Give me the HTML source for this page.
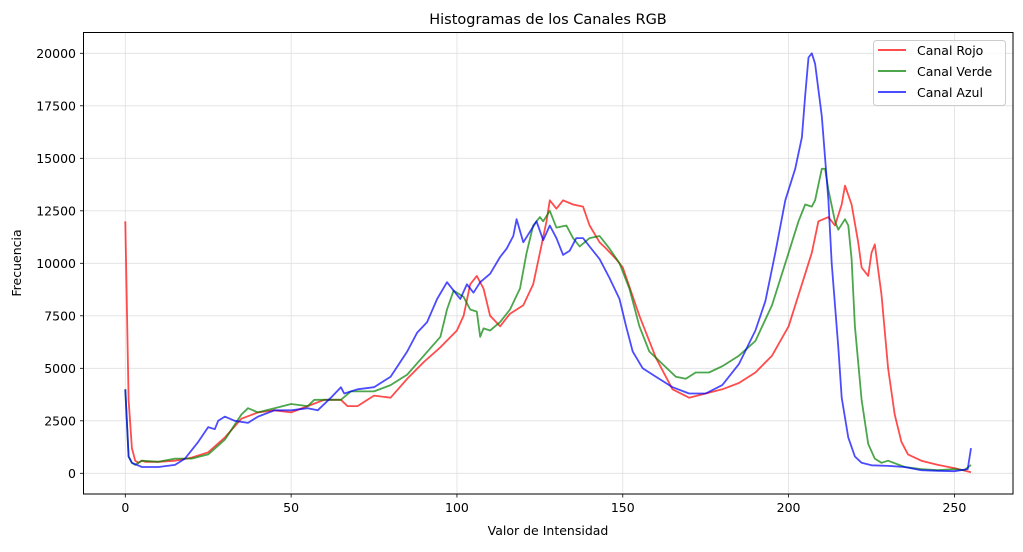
<!DOCTYPE html>
<html><head><meta charset="utf-8"><style>
body{margin:0;background:#fff;}
svg text{font-family:"DejaVu Sans","Liberation Sans",sans-serif;fill:#000;}
</style></head><body>
<svg id="chart" width="1023" height="547" viewBox="0 0 1023 547" xmlns="http://www.w3.org/2000/svg">
<rect width="1023" height="547" fill="#fff"/>
<g id="grid"></g>
<g id="series"></g>
<rect x="83.5" y="32.5" width="929.5" height="461.5" fill="none" stroke="#000" stroke-width="1"/>
<g id="ticks"></g>
<text x="548" y="24" font-size="14.5" text-anchor="middle">Histogramas de los Canales RGB</text>
<text x="548" y="535" font-size="12.5" text-anchor="middle">Valor de Intensidad</text>
<text x="21" y="263" font-size="12.5" text-anchor="middle" transform="rotate(-90 21 263)">Frecuencia</text>
<g>
<rect x="873.5" y="40.5" width="132" height="65" rx="3" fill="#fff" fill-opacity="0.8" stroke="#ccc"/>
<g><line x1="878" y1="50" x2="906" y2="50" stroke="#ff0000" stroke-opacity="0.7" stroke-width="2"/><text x="917" y="55" font-size="12.5">Canal Rojo</text></g>
<g><line x1="878" y1="71" x2="906" y2="71" stroke="#008000" stroke-opacity="0.7" stroke-width="2"/><text x="917" y="76" font-size="12.5">Canal Verde</text></g>
<g><line x1="878" y1="92" x2="906" y2="92" stroke="#0000ff" stroke-opacity="0.7" stroke-width="2"/><text x="917" y="97" font-size="12.5">Canal Azul</text></g>
</g>
</svg>
<script>
const xTicks=[0,50,100,150,200,250];
const yTicks=[0,2500,5000,7500,10000,12500,15000,17500,20000];
const redX=[0,1,2,3,4,5,6,10,15,20,25,30,35,40,45,50,55,60,65,67,70,75,80,85,90,95,100,102,104,106,108,110,113,116,120,123,125,127,128,130,132,135,138,140,143,145,148,150,155,160,165,170,175,180,185,190,195,200,205,207,209,212,214,216,217,219,221,222,224,225,226,228,230,232,234,236,240,245,250,255];
const redY=[12000,3500,1200,600,500,600,550,550,600,750,1000,1700,2600,2900,3000,2900,3200,3500,3500,3200,3200,3700,3600,4500,5300,6000,6800,7500,9000,9400,8800,7500,7000,7600,8000,9000,10500,12000,13000,12600,13000,12800,12700,11800,11000,10700,10200,9800,7500,5500,4000,3600,3800,4000,4300,4800,5600,7000,9500,10500,12000,12200,11800,12800,13700,12800,11000,9800,9400,10500,10900,8500,5000,2800,1500,900,600,400,250,50];
const greenX=[0,1,2,3,5,10,15,20,25,30,35,37,40,45,50,55,57,60,65,68,75,80,85,90,95,97,99,102,104,106,107,108,110,113,116,119,121,123,125,126,128,130,133,135,137,140,143,146,149,152,155,158,162,166,169,172,176,180,185,190,195,200,203,205,207,208,210,211,212,214,215,217,218,219,220,222,224,226,228,230,235,240,245,250,253,255];
const greenY=[4000,800,500,400,600,550,700,700,900,1600,2800,3100,2900,3100,3300,3200,3500,3500,3500,3900,3900,4200,4700,5600,6500,7800,8700,8400,7800,7700,6500,6900,6800,7200,7800,8800,10500,11800,12200,12000,12500,11700,11800,11200,10800,11200,11300,10700,10000,8800,7000,5800,5200,4600,4500,4800,4800,5100,5600,6300,8000,10500,12000,12800,12700,13000,14500,14500,13500,12000,11600,12100,11800,10200,7000,3500,1400,700,500,600,300,200,150,200,150,400];
const blueX=[0,1,2,5,10,15,18,22,25,27,28,30,33,37,40,45,50,55,58,62,65,66,70,75,80,85,88,91,94,97,99,101,103,105,107,110,113,115,117,118,120,122,124,126,128,130,132,134,136,138,140,143,146,149,151,153,156,160,165,170,175,180,185,190,193,196,199,202,204,205,206,207,208,210,212,213,215,216,218,220,222,225,230,235,240,245,250,254,255];
const blueY=[4000,800,500,300,300,400,700,1500,2200,2100,2500,2700,2500,2400,2700,3000,3000,3100,3000,3600,4100,3800,4000,4100,4600,5800,6700,7200,8300,9100,8700,8300,9000,8600,9100,9500,10300,10700,11300,12100,11000,11500,12000,11100,11800,11200,10400,10600,11200,11200,10800,10200,9300,8300,7000,5800,5000,4600,4100,3800,3800,4200,5200,6800,8200,10500,13000,14500,16000,18000,19800,20000,19500,17000,13000,10000,6000,3600,1700,800,500,380,350,300,150,120,100,200,1200];
const X0=125.3,XS=3.3165,Y0=473.3,YS=0.021;
function sx(v){return X0+v*XS;}
function sy(v){return Y0-v*YS;}
const NS='http://www.w3.org/2000/svg';
const grid=document.getElementById('grid'),ticks=document.getElementById('ticks'),ser=document.getElementById('series');
function mk(t,a,p){const e=document.createElementNS(NS,t);for(const k in a)e.setAttribute(k,a[k]);p.appendChild(e);return e;}
xTicks.forEach(v=>{const x=sx(v);
const g=mk('line',{x1:x,x2:x,y1:32,y2:494,stroke:'#e0e0e0','stroke-width':0.8},grid);


const t=mk('line',{x1:x,x2:x,y1:494,y2:497.5,stroke:'#000','stroke-width':0.8},ticks);


const l=mk('text',{x:x,y:512,'font-size':12.5,'text-anchor':'middle'},ticks);l.textContent=v;

});
yTicks.forEach(v=>{const y=sy(v);
const g=mk('line',{x1:83,x2:1013,y1:y,y2:y,stroke:'#e0e0e0','stroke-width':0.8},grid);


const t=mk('line',{x1:80,x2:83.5,y1:y,y2:y,stroke:'#000','stroke-width':0.8},ticks);


const l=mk('text',{x:76,y:y+4.5,'font-size':12.5,'text-anchor':'end'},ticks);l.textContent=v;

});
function line(xs,ys,c,name){const d=xs.map((x,i)=>(i?'L':'M')+sx(x).toFixed(1)+' '+sy(ys[i]).toFixed(1)).join(' ');
const p=mk('path',{d:d,fill:'none',stroke:c,'stroke-opacity':0.7,'stroke-width':1.8,'stroke-linejoin':'round'},ser);

}
line(redX,redY,'#ff0000','line-canal-rojo');
line(greenX,greenY,'#008000','line-canal-verde');
line(blueX,blueY,'#0000ff','line-canal-azul');
</script>
</body></html>
